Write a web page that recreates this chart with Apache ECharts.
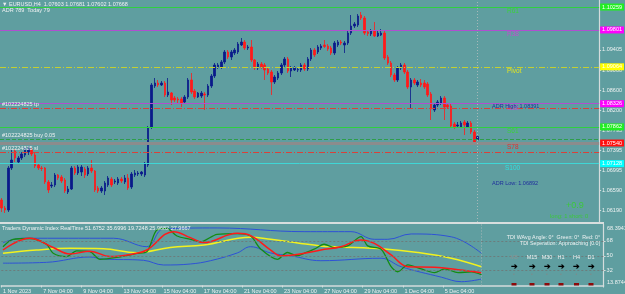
<!DOCTYPE html>
<html>
<head>
<meta charset="utf-8">
<script src="https://cdn.jsdelivr.net/npm/echarts@6/dist/echarts.min.js"></script>
<style>
html,body{margin:0;padding:0;background:#5f9ea0;}
#chart{width:625px;height:294px;}
</style>
</head>
<body>
<div id="chart"></div>
<script>
// EURUSD H4 bars: [open, close, low, high]
var candles = [
[1.0640,1.0624,1.0616,1.0644],[1.0624,1.0620,1.0614,1.0628],[1.0620,1.0704,1.0616,1.0708],[1.0704,1.0720,1.0700,1.0740],
[1.0738,1.0724,1.0716,1.0742],[1.0716,1.0724,1.0712,1.0728],[1.0724,1.0732,1.0720,1.0736],[1.0730,1.0742,1.0726,1.0746],
[1.0736,1.0742,1.0730,1.0748],[1.0740,1.0732,1.0728,1.0744],[1.0730,1.0708,1.0704,1.0734],[1.0710,1.0704,1.0700,1.0714],
[1.0704,1.0703,1.0698,1.0708],[1.0704,1.0676,1.0672,1.0706],[1.0676,1.0660,1.0654,1.0680],[1.0668,1.0670,1.0664,1.0676],
[1.0670,1.0690,1.0666,1.0694],[1.0690,1.0684,1.0680,1.0692],[1.0686,1.0678,1.0674,1.0690],[1.0680,1.0658,1.0654,1.0684],
[1.0656,1.0662,1.0652,1.0668],[1.0662,1.0704,1.0660,1.0708],[1.0704,1.0694,1.0690,1.0708],[1.0694,1.0706,1.0690,1.0710],
[1.0696,1.0706,1.0688,1.0710],[1.0702,1.0690,1.0684,1.0706],[1.0692,1.0704,1.0688,1.0708],[1.0704,1.0698,1.0694,1.0720],
[1.0698,1.0660,1.0656,1.0700],[1.0664,1.0658,1.0654,1.0668],[1.0658,1.0664,1.0654,1.0668],[1.0658,1.0674,1.0650,1.0678],
[1.0670,1.0684,1.0666,1.0688],[1.0682,1.0670,1.0666,1.0686],[1.0676,1.0678,1.0672,1.0682],[1.0674,1.0682,1.0670,1.0686],
[1.0682,1.0678,1.0674,1.0686],[1.0676,1.0684,1.0672,1.0690],[1.0684,1.0664,1.0660,1.0692],[1.0666,1.0692,1.0662,1.0696],
[1.0690,1.0694,1.0686,1.0700],[1.0692,1.0694,1.0688,1.0698],[1.0692,1.0696,1.0688,1.0698],[1.0690,1.0712,1.0686,1.0716],
[1.0710,1.0784,1.0706,1.0788],[1.0786,1.0870,1.0782,1.0874],[1.0868,1.0874,1.0864,1.0884],[1.0874,1.0870,1.0866,1.0880],
[1.0870,1.0874,1.0868,1.0878],[1.0874,1.0850,1.0846,1.0878],[1.0850,1.0856,1.0846,1.0884],[1.0854,1.0840,1.0830,1.0856],
[1.0844,1.0840,1.0836,1.0848],[1.0842,1.0840,1.0834,1.0846],[1.0842,1.0834,1.0826,1.0846],[1.0836,1.0846,1.0832,1.0850],
[1.0846,1.0880,1.0842,1.0884],[1.0880,1.0856,1.0852,1.0894],[1.0858,1.0846,1.0842,1.0862],[1.0846,1.0854,1.0844,1.0856],
[1.0848,1.0854,1.0844,1.0858],[1.0852,1.0850,1.0820,1.0856],[1.0850,1.0868,1.0846,1.0872],[1.0868,1.0888,1.0864,1.0892],
[1.0888,1.0910,1.0884,1.0914],[1.0906,1.0910,1.0902,1.0914],[1.0906,1.0916,1.0902,1.0920],[1.0916,1.0936,1.0912,1.0940],
[1.0936,1.0926,1.0922,1.0940],[1.0926,1.0936,1.0920,1.0940],[1.0934,1.0940,1.0930,1.0944],[1.0936,1.0952,1.0932,1.0956],
[1.0950,1.0956,1.0948,1.0964],[1.0956,1.0944,1.0940,1.0960],[1.0944,1.0946,1.0940,1.0950],[1.0946,1.0920,1.0916,1.0960],
[1.0920,1.0904,1.0900,1.0922],[1.0904,1.0912,1.0900,1.0916],[1.0912,1.0906,1.0902,1.0916],[1.0910,1.0900,1.0880,1.0914],
[1.0902,1.0894,1.0890,1.0906],[1.0896,1.0876,1.0850,1.0900],[1.0876,1.0886,1.0872,1.0890],[1.0884,1.0894,1.0880,1.0898],
[1.0894,1.0910,1.0890,1.0914],[1.0910,1.0922,1.0906,1.0926],[1.0922,1.0898,1.0894,1.0926],[1.0898,1.0904,1.0886,1.0908],
[1.0900,1.0904,1.0898,1.0908],[1.0900,1.0901,1.0896,1.0904],[1.0900,1.0910,1.0896,1.0914],[1.0910,1.0902,1.0898,1.0914],
[1.0902,1.0922,1.0898,1.0926],[1.0922,1.0940,1.0918,1.0944],[1.0940,1.0930,1.0926,1.0944],[1.0936,1.0946,1.0932,1.0950],
[1.0944,1.0948,1.0940,1.0952],[1.0950,1.0947,1.0944,1.0960],[1.0948,1.0942,1.0938,1.0952],[1.0944,1.0934,1.0930,1.0948],
[1.0934,1.0954,1.0930,1.0958],[1.0950,1.0956,1.0946,1.0960],[1.0956,1.0954,1.0950,1.0960],[1.0950,1.0954,1.0934,1.0958],
[1.0954,1.0974,1.0950,1.0978],[1.0974,1.0988,1.0970,1.1010],[1.0988,1.0992,1.0984,1.0996],[1.0990,1.1008,1.0986,1.1012],
[1.1010,1.1004,1.1000,1.1016],[1.1004,1.0974,1.0970,1.1008],[1.0976,1.0973,1.0968,1.0980],[1.0972,1.0978,1.0968,1.0982],
[1.0978,1.0968,1.0966,1.0996],[1.0968,1.0974,1.0966,1.0978],[1.0970,1.0974,1.0968,1.0982],[1.0974,1.0924,1.0920,1.0978],
[1.0926,1.0914,1.0910,1.0930],[1.0914,1.0890,1.0886,1.0918],[1.0890,1.0880,1.0876,1.0894],[1.0880,1.0904,1.0876,1.0908],
[1.0904,1.0910,1.0900,1.0914],[1.0910,1.0896,1.0892,1.0914],[1.0896,1.0866,1.0862,1.0900],[1.0866,1.0880,1.0824,1.0884],
[1.0880,1.0874,1.0870,1.0884],[1.0870,1.0876,1.0866,1.0880],[1.0874,1.0870,1.0866,1.0882],[1.0874,1.0866,1.0862,1.0880],
[1.0872,1.0850,1.0846,1.0876],[1.0852,1.0822,1.0800,1.0856],[1.0820,1.0830,1.0816,1.0834],[1.0830,1.0836,1.0826,1.0840],
[1.0834,1.0844,1.0830,1.0848],[1.0844,1.0826,1.0800,1.0848],[1.0830,1.0826,1.0822,1.0834],[1.0828,1.0788,1.0784,1.0832],
[1.0792,1.0786,1.0782,1.0796],[1.0788,1.0790,1.0784,1.0796],[1.0786,1.0794,1.0784,1.0798],[1.0796,1.0790,1.0770,1.0800],
[1.0786,1.0794,1.0784,1.0798],[1.0794,1.0776,1.0772,1.0798],[1.0776,1.0756,1.0754,1.0780],[1.07603,1.07668,1.07602,1.07681]
];
var barCount = 180;
var lastBar = 143;

var tickIndex = [0, 12, 24, 36, 48, 60, 72, 84, 96, 108, 120, 132];
var tickText = ['1 Nov 2023', '7 Nov 04:00', '9 Nov 04:00', '13 Nov 04:00', '15 Nov 04:00', '17 Nov 04:00',
  '21 Nov 04:00', '23 Nov 04:00', '27 Nov 04:00', '29 Nov 04:00', '1 Dec 04:00', '5 Dec 04:00'];

var priceTicks = [1.09405, 1.09000, 1.08600, 1.08200, 1.07795, 1.07395, 1.06995, 1.06590, 1.06190];

// fibonacci pivot levels
var levelNames = ['R61', 'R38', 'Pivot', 'S38', 'S61', 'S78', 'S100'];
var levelValues = [1.10259, 1.09801, 1.09064, 1.08326, 1.07862, 1.07540, 1.07128];
var levelLine = ['#2fd040', '#b04fd0', '#c4d030', '#b04fd0', '#2fd040', '#8c8c8c', '#3fd6d6'];
var levelType = ['solid', 'solid', [6, 2, 1, 2], 'solid', 'solid', 'solid', 'solid'];
var levelWidth = [1.2, 1.2, 1.2, 1, 1, 3, 1];
var levelBox = ['#22ee22', '#ff00ff', '#ffff00', '#ff00ff', '#22ee22', '#ff1010', '#00ffff'];
var levelText = ['#3ad23a', '#c050d0', '#e4e420', '#c050d0', '#3ad23a', '#e03030', '#30e0e0'];

// open order lines
var orderNames = ['#102224825 tp', '#102224825 buy 0.05', '#102224825 sl'];
var orderValues = [1.08236, 1.07620, 1.07354];
var orderColors = ['#d9413a', '#2e9e4a', '#d9413a'];
var orderType = [[6, 2, 1, 2], [4, 2], [6, 2, 1, 2]];
var bidPrice = 1.07668;

// Traders Dynamic Index, read at bar indices
var tdiUpper = [[0,66],[6,71.3],[33,71.3],[43,61],[48,82.6],[64,83.8],[90,79.3],[104,79.3],[111,70],[115,70],[122,76.5],[134,73],[143,53]];
var tdiLower = [[0,41],[13,42],[26,48.5],[30,46],[42,44.5],[48,38.8],[56,40],[62,44],[70,53.4],[74,61],[80,53.4],[86,50],[95,44],[113,47],[119,36.7],[131,24],[137,18.5],[143,21.7]];
var tdiYellow = [[0,53],[10,57],[20,59],[30,58.5],[40,53.8],[50,60],[60,63.1],[74,72.5],[80,70],[89,65],[95,62],[99,61],[114,58.3],[124,54],[134,47],[143,36.7]];
var tdiGreen = [[0,61],[3,70],[8,71],[13,64],[15,53],[19,49],[22,56],[26,55],[29,45.7],[34,48],[40,53],[43,55],[46,81.4],[49,83],[52,74],[56,70],[59,67],[64,76],[70,77],[74,74],[77,58.3],[82,45.7],[85,54],[88,50],[90,53],[93,58],[96,64],[99,60],[103,62],[107,73.3],[109,62],[113,58],[116,36.7],[118,30.6],[121,39],[125,34],[129,29.5],[132,34],[136,29.5],[140,30.5],[143,27]];
var tdiRed = [[0,57],[8,71.3],[15,60],[20,52.2],[26,55.5],[32,49],[40,53],[43,57],[51,79.3],[56,72],[60,66],[70,77.3],[74,74.5],[80,57],[83,49.8],[90,53],[95,57],[101,61],[107,69.2],[111,65],[116,51],[121,36.7],[129,36],[136,33],[143,29.5]];
var tdiLevels = [32, 50, 68];

var tfNames = ['M5', 'M15', 'M30', 'H1', 'H4', 'D1'];

var FONT = 'Liberation Sans, Arial, sans-serif';
var TXT = '#eef2f2';

var cats = [];
for (var i = 0; i < barCount; i++) cats.push(String(i));

function showTick(idx) { return tickIndex.indexOf(idx) >= 0; }

var chart = echarts.init(document.getElementById('chart'));

var levelMarks = levelValues.map(function (v, i) {
  return {
    yAxis: v,
    lineStyle: { color: levelLine[i], type: levelType[i], width: levelWidth[i] },
    label: {
      show: true, position: 'end', distance: 1, formatter: v.toFixed(5),
      backgroundColor: levelBox[i], color: '#ffffff', fontSize: 5.5, fontFamily: FONT,
      padding: [1, 2, 0, 2]
    }
  };
});
var orderMarks = orderValues.map(function (v, i) {
  return { yAxis: v, lineStyle: { color: orderColors[i], type: orderType[i], width: 1 }, label: { show: false } };
});
orderMarks.push({
  yAxis: bidPrice, lineStyle: { opacity: 0 },
  label: { show: true, position: 'end', distance: 1, formatter: bidPrice.toFixed(5),
    backgroundColor: '#ffffff', color: '#777777', fontSize: 5.5, fontFamily: FONT, padding: [1, 2, 0, 2] }
});

var option = {
  backgroundColor: '#5f9ea0',
  animation: false,
  grid: [
    { left: -3.69, right: 21.4, top: 0, height: 222 },
    { left: -3.69, right: 21.4, top: 224, bottom: 8.3 }
  ],
  xAxis: [
    { type: 'category', data: cats, gridIndex: 0, boundaryGap: true, show: false },
    {
      type: 'category', data: cats, gridIndex: 1, boundaryGap: true,
      axisLine: { lineStyle: { color: '#d4dcdc', width: 1.5 } },
      axisTick: { show: true, interval: showTick, length: 2, lineStyle: { color: '#d4dcdc' } },
      axisLabel: {
        interval: showTick, align: 'left', margin: 2.5, fontSize: 5.5, color: TXT, fontFamily: FONT,
        formatter: function (v, idx) { var p = tickIndex.indexOf(idx); return p >= 0 ? tickText[p] : ''; }
      },
      splitLine: { show: false }
    }
  ],
  yAxis: [
    {
      type: 'value', gridIndex: 0, position: 'right', min: 1.0596, max: 1.1040, scale: true,
      axisLine: { show: true, lineStyle: { color: '#d4dcdc', width: 1.2 } },
      axisTick: { show: true, length: 2, customValues: priceTicks, lineStyle: { color: '#d4dcdc' } },
      axisLabel: { customValues: priceTicks, fontSize: 5.5, color: TXT, fontFamily: FONT, margin: 3,
        formatter: function (v) { return v.toFixed(5); } },
      splitLine: { show: false }
    },
    {
      type: 'value', gridIndex: 1, position: 'right', min: 13.8744, max: 88.6,
      axisLine: { show: true, lineStyle: { color: '#d4dcdc', width: 1.2 } },
      axisTick: { show: true, length: 2, customValues: tdiLevels, lineStyle: { color: '#d4dcdc' } },
      axisLabel: { customValues: tdiLevels, fontSize: 5.5, color: TXT, fontFamily: FONT, margin: 3 },
      splitLine: { show: false }
    }
  ],
  series: [
    {
      type: 'candlestick', xAxisIndex: 0, yAxisIndex: 0, data: candles, barWidth: 2,
      itemStyle: { color: '#0a1a8a', color0: '#ff1a1a', borderColor: '#0a1a8a', borderColor0: '#ff1a1a', borderWidth: 0.8 },
      markLine: {
        silent: true, symbol: 'none', animation: false, precision: 5,
        data: orderMarks.concat(levelMarks).concat([
          { xAxis: lastBar, lineStyle: { color: '#a6b8b8', type: [1, 2], width: 1 }, label: { show: false } }
        ])
      },
      z: 3
    },
    {
      type: 'line', xAxisIndex: 1, yAxisIndex: 1, data: tdiUpper, smooth: 0.4, symbol: 'none',
      lineStyle: { color: '#2e52d6', width: 1 },
      markLine: {
        silent: true, symbol: 'none', animation: false, precision: 4,
        data: tdiLevels.map(function (v) {
          return { yAxis: v, lineStyle: { color: '#6c7c7c', type: [2, 2], width: 1 }, label: { show: false } };
        }).concat([{ xAxis: lastBar, lineStyle: { color: '#a6b8b8', type: [1, 2], width: 1 }, label: { show: false } }])
      }
    },
    { type: 'line', xAxisIndex: 1, yAxisIndex: 1, data: tdiLower, smooth: 0.4, symbol: 'none', lineStyle: { color: '#2e52d6', width: 1 } },
    { type: 'line', xAxisIndex: 1, yAxisIndex: 1, data: tdiYellow, smooth: 0.4, symbol: 'none', lineStyle: { color: '#f2f21e', width: 1.5 } },
    { type: 'line', xAxisIndex: 1, yAxisIndex: 1, data: tdiGreen, smooth: 0.3, symbol: 'none', lineStyle: { color: '#138c13', width: 1.3 } },
    { type: 'line', xAxisIndex: 1, yAxisIndex: 1, data: tdiRed, smooth: 0.4, symbol: 'none', lineStyle: { color: '#ff1a1a', width: 1.5 } }
  ]
};
chart.setOption(option);

// texts placed with the price scale
function py(v) { return chart.convertToPixel({ yAxisIndex: 0 }, v); }
function txt(x, y, s, color, size, align, vAlign, weight) {
  return { type: 'text', x: x, y: y, silent: true, z: 20,
    style: { text: s, fill: color, fontSize: size, fontFamily: FONT, align: align || 'left',
      verticalAlign: vAlign || 'top', fontWeight: weight || 'normal' } };
}
var g = [];
g.push({ type: 'rect', shape: { x: 0, y: 222, width: 604, height: 2 }, style: { fill: '#d8dede' }, silent: true, z: 19 });
g.push(txt(2, 1.5, '\u25BC EURUSD,H4  1.07603 1.07681 1.07602 1.07668', TXT, 5.5));
g.push(txt(2, 7.5, 'ADR 789  Today 79', TXT, 5.5));
levelNames.forEach(function (n, i) {
  g.push(txt(n === 'S100' ? 505 : 507, py(levelValues[i]) + 1, n, levelText[i], 6.5));
});
orderNames.forEach(function (n, i) {
  g.push(txt(2, py(orderValues[i]) - 0.5, n, TXT, 5.5, 'left', 'bottom'));
});
g.push(txt(492, 103, 'ADR High: 1.08391', '#1f2f9c', 5.5));
g.push(txt(492, 180, 'ADR Low: 1.06892', '#1f2f9c', 5.5));
g.push(txt(566, 201, '+0.9', '#3cc83c', 9));
g.push(txt(550, 213, 'long: 1 short: 0', '#3cc83c', 5.8));
g.push(txt(2, 225.5, 'Traders Dynamic Index RealTime 51.6752 35.6996 19.7248 25.9682 27.9667', TXT, 5.5));
g.push(txt(600, 235, 'TDI WAvg Angle: 0\u00B0  Green: 0\u00B0  Red: 0\u00B0', TXT, 5.3, 'right'));
g.push(txt(600, 241, 'TDI Seperation: Approaching [0.0]', TXT, 5.3, 'right'));
g.push(txt(607, 225, '68.3941', TXT, 5.5));
g.push(txt(607, 279, '13.8744', TXT, 5.5));
var tfX = [514, 532, 547, 561, 576.5, 591];
tfNames.forEach(function (n, i) {
  g.push(txt(tfX[i], 254.5, n, i === 0 ? '#8a9494' : TXT, 5.5, 'center'));
  g.push(txt(tfX[i], 263, '\u2794', '#000000', 8, 'center', 'top', 'bold'));
  g.push(txt(tfX[i], 272.5, '\u2022', '#7f8a8a', 5, 'center'));
  g.push({ type: 'rect', shape: { x: tfX[i] - 2.5, y: 283, width: 5, height: 2.5 }, style: { fill: '#8b0a0a' }, silent: true, z: 20 });
});
chart.setOption({ graphic: g });
</script>
</body>
</html>
